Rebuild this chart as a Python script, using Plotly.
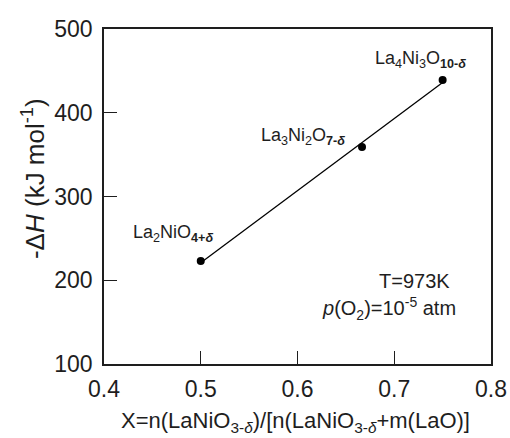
import plotly.graph_objects as go

x_vals = [0.5, 0.6667, 0.75]
dh_vals = [223, 359, 439]
fit_x = [0.5, 0.75]
fit_y = [221, 436]
x_ticks = [0.4, 0.5, 0.6, 0.7, 0.8]
y_ticks = [100, 200, 300, 400, 500]
labels = ["La<sub>2</sub>NiO<sub><b>4+<i>δ</i></b></sub>",
          "La<sub>3</sub>Ni<sub>2</sub>O<sub><b>7-<i>δ</i></b></sub>",
          "La<sub>4</sub>Ni<sub>3</sub>O<sub><b>10-<i>δ</i></b></sub>"]
label_x = [0.471, 0.6057, 0.727]
label_y = [256, 372, 463]

FONT = "Liberation Sans, Arial, sans-serif"
C = "#1e1e1e"
fig = go.Figure()
fig.add_trace(go.Scatter(x=fit_x, y=fit_y, mode="lines",
                         line=dict(color="black", width=1.3), showlegend=False))
fig.add_trace(go.Scatter(x=x_vals, y=dh_vals, mode="markers",
                         marker=dict(color="black", size=8), showlegend=False))
for t, lx, ly in zip(labels, label_x, label_y):
    fig.add_annotation(x=lx, y=ly, text=t, showarrow=False,
                       font=dict(family=FONT, size=18, color=C))
fig.add_annotation(x=0.7597, y=199, text="T=973K", showarrow=False,
                   xanchor="right", font=dict(family=FONT, size=20, color=C))
fig.add_annotation(x=0.7659, y=166, text="<i>p</i>(O<sub>2</sub>)=10<sup>-5</sup> atm",
                   showarrow=False, xanchor="right",
                   font=dict(family=FONT, size=20, color=C))
# axis titles
fig.add_annotation(xref="paper", yref="paper", x=0.496, y=-0.173,
                   xanchor="center", yanchor="middle",
                   text="X=n(LaNiO<sub>3-<i>δ</i></sub>)/[n(LaNiO<sub>3-<i>δ</i></sub>+m(LaO)]",
                   showarrow=False, font=dict(family=FONT, size=22, color=C))
fig.add_annotation(xref="paper", yref="paper", x=-0.1835, y=0.555, textangle=-90,
                   xanchor="center", yanchor="middle",
                   text="-Δ<i>H</i> (kJ mol<sup>-1</sup>)",
                   showarrow=False, font=dict(family=FONT, size=26, color=C))

fig.update_layout(
    width=510, height=438,
    margin=dict(l=104, r=19, t=29, b=74),
    plot_bgcolor="white", paper_bgcolor="white",
    font=dict(family=FONT, color=C),
    xaxis=dict(range=[0.4, 0.8], tickvals=x_ticks, ticktext=[f"{v:.1f}" for v in x_ticks],
               showgrid=False, zeroline=False, showline=True, linecolor=C,
               linewidth=1.8, mirror=True, ticks="inside", ticklen=13, tickwidth=1.4,
               tickcolor=C, tickfont=dict(size=23), automargin=False,
               ticklabelstandoff=3),
    yaxis=dict(range=[100, 500], tickvals=y_ticks, showgrid=False, zeroline=False,
               showline=True, linecolor=C, linewidth=1.8, mirror=True,
               ticks="inside", ticklen=13, tickwidth=1.4, tickcolor=C,
               tickfont=dict(size=23), automargin=False, ticklabelstandoff=5),
)
fig.write_html("out.html")
